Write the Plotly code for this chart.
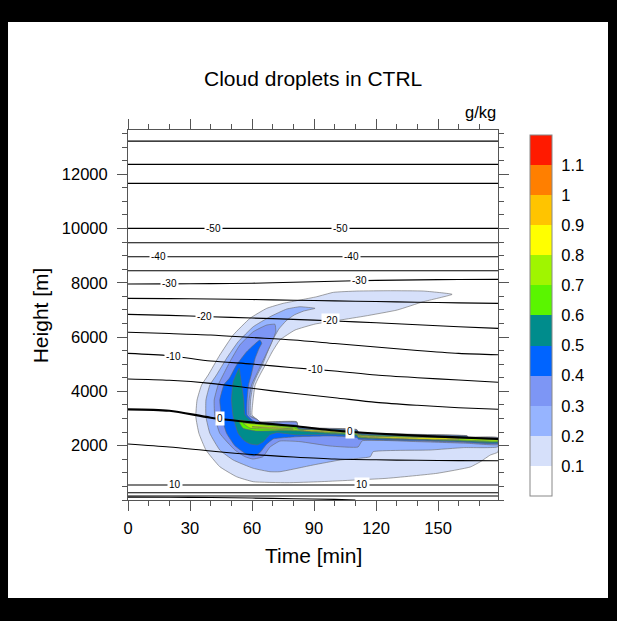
import numpy as np
import plotly.graph_objects as go

# ---------------- axes / colour bar ----------------
time_ticks = [0, 30, 60, 90, 120, 150]
height_ticks = [2000, 4000, 6000, 8000, 10000, 12000]
x_range = [0, 179]
y_range = [0, 13630]

cbar_levels = [0.1, 0.2, 0.3, 0.4, 0.5, 0.6, 0.7, 0.8, 0.9, 1.0, 1.1]
cbar_labels = ["0.1", "0.2", "0.3", "0.4", "0.5", "0.6", "0.7", "0.8", "0.9", "1", "1.1"]
cbar_min, cbar_max = 0.0, 1.2
cbar_colors = ["#ffffff", "#d6e0fa", "#96b4ff", "#7d96f5", "#0064ff", "#008c8c",
               "#5af500", "#a0f500", "#ffff00", "#ffc400", "#ff7f00", "#ff1a00"]

# ---------------- temperature isolines (deg C), height in m ----------------
iso_t = [0, 20, 40, 60, 80, 100, 120, 140, 160, 179]
iso_m65 = [13222] * 10
iso_m60 = [12364] * 10
iso_m55 = [11664] * 10
iso_m50 = [10007] * 10
iso_m45 = [9476] * 10
iso_m40 = [8961] * 10
iso_m35 = [8445] * 10
iso_m30 = [7955, 7960, 7970, 7985, 8020, 8060, 8090, 8110, 8122, 8128]
iso_m25 = [7429, 7420, 7405, 7385, 7360, 7335, 7310, 7285, 7262, 7245]
iso_m20 = [6839, 6803, 6751, 6703, 6655, 6593, 6530, 6456, 6383, 6324]
iso_m15 = [6177, 6132, 6077, 5985, 5893, 5764, 5635, 5506, 5400, 5350]
iso_m10 = [5403, 5315, 5119, 5009, 4873, 4751, 4604, 4504, 4420, 4335]
iso_m05 = [4457, 4409, 4298, 4114, 3930, 3768, 3598, 3488, 3400, 3341]
iso_p00 = [3341, 3289, 3030, 2860, 2726, 2560, 2449, 2368, 2309, 2247]
iso_p05 = [2063, 1952, 1805, 1676, 1584, 1510, 1481, 1462, 1451, 1447]
iso_p10 = [553] * 10
iso_p15 = [269] * 10
iso_p20 = [150] * 10
iso_p25_t = [0, 20, 40, 60, 80, 100, 110]
iso_p25 = [105, 100, 90, 72, 48, 22, 0]

label_levels = [-50, -50, -40, -40, -30, -30, -20, -20, -10, -10, 0, 0, 10, 10]
label_times = [41.2, 102.6, 14.9, 108.3, 20.2, 112.0, 37.2, 97.8, 21.8, 90.5, 44.4, 107.5, 22.7, 113.0]

# ---------------- cloud droplet regions (g/kg), outlines in (min, m) ----------------
cloud_01_x = [156.8, 143, 127, 110.7, 99.4, 91.3, 83.2, 75.1, 67.1, 59, 50.9, 44.4, 38.8, 35.6, 33.4,
              32.8, 34.3, 37.7, 44.4, 52.5, 60.6, 76.9, 92.9, 125.3, 149.5, 165.6, 170.5, 175.3, 179,
              179, 164.7, 164, 111.5, 110.7, 82.4, 81.6, 63.8, 62.2, 60, 60.5, 61.5, 63.8, 66.4, 69.7,
              73.5, 80.8, 90.5, 102.6, 114.7, 130.2, 142.8]
cloud_01_y = [7576, 7697, 7709, 7697, 7650, 7488, 7366, 7245, 7060, 6692, 6077, 5340, 4604, 4236, 3683,
              3068, 2457, 1842, 1227, 858, 674, 637, 674, 799, 983, 1216, 1411, 1657, 1768,
              2295, 2320, 2368, 2494, 2597, 2700, 2884, 2884, 2984, 3131, 3683, 4236, 4604, 4972, 5451,
              5893, 6261, 6482, 6629, 6777, 6998, 7303]

cloud_02_x = [90.5, 83.2, 76.8, 68.7, 60.6, 53.3, 47.7, 42.8, 39.6, 37.7, 37.7, 39.6, 44.4, 50.9, 60.6,
              68.7, 73.5, 89.5, 102.6, 117.2, 118.6, 146.2, 162.4, 179, 179, 164.7, 164, 111.5, 110.7,
              82.4, 81.6, 64, 62.3, 59.3, 59.3, 60.5, 62.5, 65, 67.5, 70, 73, 76.5, 80.5, 85]
cloud_02_y = [7060, 7119, 7035, 6751, 6383, 5830, 5219, 4604, 4236, 3683, 3068, 2457, 1842, 1473, 1168,
              1042, 1042, 1289, 1473, 1595, 1779, 1842, 1930, 1963, 2285, 2312, 2360, 2486, 2588,
              2690, 2872, 2872, 2972, 3120, 3683, 4236, 4604, 4972, 5451, 5893, 6300, 6600, 6820, 6960]

cloud_03_x = [71.1, 67.1, 60.6, 54.1, 49.3, 46, 43.6, 41.7, 42, 44.4, 51.7, 56.6, 60.4, 65.3, 68.7,
              73.5, 83.2, 97.8, 111.3, 113.3, 140, 164, 179, 179, 164.7, 164, 111.5, 110.7, 82.4,
              81.6, 64.3, 62.5, 58.6, 58.6, 59.8, 62, 64.5, 67, 69.5, 71.5]
cloud_03_y = [6471, 6445, 6199, 5709, 5094, 4604, 4236, 3683, 3068, 2457, 1842, 1595, 1510, 1595, 1952,
              2173, 2150, 1989, 1952, 2180, 2150, 2090, 2044, 2278, 2305, 2352, 2478, 2580, 2680,
              2860, 2860, 2960, 3110, 3683, 4236, 4604, 5000, 5400, 5800, 6200]

cloud_04_x = [63.8, 57.4, 52.5, 49, 46.5, 44.4, 45.3, 47.7, 51.7, 57.4, 61, 64, 67, 70.3, 81.6, 97.8,
              110.7, 111.5, 140, 164, 179, 179, 164.7, 164, 111.5, 110.7, 82.4, 81.6, 64, 60, 57.6,
              57.6, 58.3, 59.6, 61.5, 63.5, 64.7]
cloud_04_y = [5893, 5462, 4972, 4482, 4260, 3683, 3068, 2457, 2000, 1680, 1620, 1760, 2050, 2250, 2330,
              2360, 2300, 2240, 2180, 2120, 2081, 2265, 2290, 2340, 2465, 2565, 2660, 2760, 2780, 2950,
              3131, 3683, 4236, 4604, 5219, 5600, 5771]

cloud_05_x = [53.8, 50.9, 50.1, 50.9, 53.3, 56, 59, 62.5, 65.5, 68.5, 72, 81.6, 97.8, 110.7, 111.5, 140,
              164, 179, 179, 164.7, 164, 111.5, 110.7, 82.4, 81.6, 68, 60, 56.6, 56, 55, 54.3]
cloud_05_y = [4851, 4357, 3683, 3068, 2457, 2200, 2070, 2030, 2150, 2400, 2480, 2400, 2420, 2350, 2290,
              2210, 2150, 2110, 2255, 2275, 2320, 2440, 2540, 2630, 2700, 2740, 2880, 3131, 3683, 4236, 4600]

cloud_06_x = [53.3, 59, 68.7, 81.6, 82.4, 110.7, 111.5, 164, 164.7, 179, 179, 164, 140, 111.5, 110.7,
              97.8, 85, 75, 62.2, 55.7]
cloud_06_y = [2947, 2884, 2788, 2700, 2620, 2510, 2410, 2290, 2250, 2230, 2150, 2175, 2230, 2310, 2400,
              2460, 2530, 2560, 2541, 2641]

cloud_07_x = [55.7, 68.7, 80, 83, 110.7, 111.5, 164, 179, 179, 164, 111.5, 110.7, 95, 80, 68.7, 59]
cloud_07_y = [2825, 2740, 2660, 2590, 2490, 2390, 2270, 2215, 2175, 2205, 2345, 2445, 2500, 2580, 2610, 2650]

cloud_08_x = [85, 110.7, 111.5, 160, 160, 111.5, 110.7, 85]
cloud_08_y = [2578, 2478, 2378, 2262, 2238, 2352, 2456, 2555]
cloud_08b_x = [60, 72, 80, 72, 62]
cloud_08b_y = [2700, 2665, 2615, 2632, 2680]

cloud_regions = [
    (cloud_01_x, cloud_01_y, 1), (cloud_02_x, cloud_02_y, 2), (cloud_03_x, cloud_03_y, 3),
    (cloud_04_x, cloud_04_y, 4), (cloud_05_x, cloud_05_y, 5), (cloud_06_x, cloud_06_y, 6),
    (cloud_07_x, cloud_07_y, 7), (cloud_08_x, cloud_08_y, 8), (cloud_08b_x, cloud_08b_y, 8),
]

isolines = [
    (-65, iso_t, iso_m65), (-60, iso_t, iso_m60), (-55, iso_t, iso_m55), (-50, iso_t, iso_m50),
    (-45, iso_t, iso_m45), (-40, iso_t, iso_m40), (-35, iso_t, iso_m35), (-30, iso_t, iso_m30),
    (-25, iso_t, iso_m25), (-20, iso_t, iso_m20), (-15, iso_t, iso_m15), (-10, iso_t, iso_m10),
    (-5, iso_t, iso_m05), (0, iso_t, iso_p00), (5, iso_t, iso_p05), (10, iso_t, iso_p10),
    (15, iso_t, iso_p15), (20, iso_t, iso_p20), (25, iso_p25_t, iso_p25),
]

FONT = "Liberation Sans, Arial, Helvetica, sans-serif"
fig = go.Figure()

for xs, ys, lev in cloud_regions:
    fig.add_trace(go.Scatter(
        x=xs + [xs[0]], y=ys + [ys[0]], mode="lines", fill="toself",
        fillcolor=cbar_colors[lev], line=dict(color="#666666", width=0.6, shape="spline", smoothing=0.4),
        hoverinfo="skip", showlegend=False))

for lev, xs, ys in isolines:
    fig.add_trace(go.Scatter(
        x=xs, y=ys, mode="lines",
        line=dict(color="black", width=2.2 if lev == 0 else 1.1, shape="spline", smoothing=0.8),
        hoverinfo="skip", showlegend=False))

iso_lookup = {lev: (xs, ys) for lev, xs, ys in isolines}
annotations = []
for lev, t in zip(label_levels, label_times):
    xs, ys = iso_lookup[lev]
    annotations.append(dict(
        x=t, y=float(np.interp(t, xs, ys)), xref="x", yref="y", text=str(lev), showarrow=False,
        font=dict(family=FONT, size=10, color="black"), bgcolor="white", borderpad=1))

# colour bar carrier: a single invisible point outside the visible range
n_bands = len(cbar_colors)
step_scale = []
for k, c in enumerate(cbar_colors):
    step_scale += [[k / n_bands, c], [(k + 1) / n_bands, c]]

CB_X, CB_THICK = 1.0865, 22
CB_LEN_PX, CB_Y = 361, 0.4986
fig.add_trace(go.Scatter(
    x=[1000], y=[0], mode="markers", hoverinfo="skip", showlegend=False,
    marker=dict(color=[0.5], cmin=cbar_min, cmax=cbar_max, colorscale=step_scale, showscale=True,
                colorbar=dict(x=CB_X, xanchor="left", xpad=0, y=CB_Y, yanchor="middle", ypad=0,
                              lenmode="pixels", len=CB_LEN_PX, thicknessmode="pixels", thickness=CB_THICK,
                              outlinewidth=1, outlinecolor="#888888",
                              tickvals=cbar_levels, ticktext=cbar_labels,
                              ticks="outside", ticklen=6, tickcolor="rgba(0,0,0,0)",
                              tickfont=dict(family=FONT, size=16.5, color="black")))))

# separators between colour-bar boxes
plot_h = 621 - 130 - 121
plot_w = 617 - 128 - 119
cb_len = CB_LEN_PX / plot_h
cb_bottom = CB_Y - cb_len / 2
cb_x1 = CB_X + CB_THICK / plot_w
shapes = [dict(type="rect", xref="paper", yref="paper", x0=-0.3243, x1=1.2973, y0=-0.2649, y1=1.2919,
               fillcolor="white", line=dict(width=0), layer="below")]
for lv in cbar_levels:
    yy = cb_bottom + (lv - cbar_min) / (cbar_max - cbar_min) * cb_len
    shapes.append(dict(type="line", xref="paper", yref="paper", x0=CB_X, x1=cb_x1, y0=yy, y1=yy,
                       line=dict(color="#777777", width=0.8), layer="above"))

annotations += [
    dict(x=0.5, y=1.1405, xref="paper", yref="paper", text="Cloud droplets in CTRL", showarrow=False,
         font=dict(family=FONT, size=21, color="black"), xanchor="center", yanchor="middle"),
    dict(x=1.0, y=1.0486, xref="paper", yref="paper", text="g/kg", showarrow=False,
         font=dict(family=FONT, size=16.5, color="black"), xanchor="right", yanchor="middle"),
    dict(x=0.5, y=-0.151, xref="paper", yref="paper", text="Time [min]", showarrow=False,
         font=dict(family=FONT, size=21, color="black"), xanchor="center", yanchor="middle"),
    dict(x=-0.237, y=0.5, xref="paper", yref="paper", text="Height [m]", showarrow=False, textangle=-90,
         font=dict(family=FONT, size=21, color="black"), xanchor="center", yanchor="middle"),
]

axis_common = dict(ticks="outside", ticklen=10, tickwidth=1, tickcolor="#555555",
                   showline=True, linecolor="#555555", linewidth=1, mirror="allticks",
                   showgrid=False, zeroline=False,
                   tickfont=dict(family=FONT, size=16.5, color="black"))

fig.update_layout(
    width=617, height=621, autosize=False,
    margin=dict(l=128, r=119, t=130, b=121, pad=0),
    paper_bgcolor="black", plot_bgcolor="white", showlegend=False,
    xaxis=dict(range=x_range, tickvals=time_ticks, ticktext=[str(v) for v in time_ticks],
               ticklabelstandoff=3,
               minor=dict(tick0=0, dtick=10, ticks="outside", ticklen=5, tickcolor="#555555", showgrid=False),
               **axis_common),
    yaxis=dict(range=y_range, tickvals=height_ticks, ticktext=[str(v) for v in height_ticks],
               ticklabelstandoff=6,
               minor=dict(tick0=0, dtick=500, ticks="outside", ticklen=5, tickcolor="#555555", showgrid=False),
               **axis_common),
    annotations=annotations,
    shapes=shapes,
)

fig.write_html("out.html")
